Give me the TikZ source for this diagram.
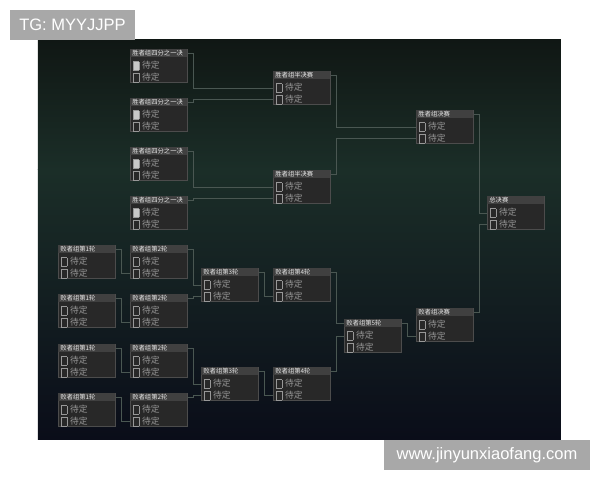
\documentclass[tikz,border=0pt]{standalone}
\usepackage{fontspec}
\setmainfont{Noto Sans CJK SC}
\newfontfamily\wmfont{Liberation Sans}
\usetikzlibrary{positioning}

\definecolor{bgtop}{HTML}{101714}
\definecolor{bgmid}{HTML}{1B2E28}
\definecolor{bgbot}{HTML}{0A0D19}
\definecolor{boxbody}{HTML}{282828}
\definecolor{boxhead}{HTML}{404040}
\definecolor{headtext}{HTML}{E8E8E8}
\definecolor{itemgray}{HTML}{989898}
\definecolor{flagfill}{HTML}{C8C8C8}
\definecolor{linkgray}{HTML}{4A5752}
\definecolor{wmgray}{HTML}{A8A8A8}

\setlength{\fboxsep}{0pt}
\setlength{\fboxrule}{0.4pt}
\newcommand{\chk}[1][boxbody]{\raisebox{-0.8pt}{\fcolorbox{itemgray}{#1}{\rule{0pt}{4.6pt}\hspace{2.9pt}}}\hspace{1.6pt}}

\tikzset{
  matchbox/.style={rectangle, fill=boxbody, draw=black!70, line width=0.2pt, anchor=north west,
    minimum width=1.14cm, minimum height=0.66cm, inner sep=0pt},
  matchhead/.style={rectangle, fill=boxhead, anchor=north west, minimum width=1.14cm,
    minimum height=0.16cm, inner xsep=0.04cm, inner ysep=0pt, text width=1.06cm, align=left,
    text=headtext, font=\fontsize{3.6}{4}\selectfont},
  entry/.style={rectangle, minimum width=1.14cm, minimum height=0.22cm, inner xsep=0.05cm,
    inner ysep=0pt, text width=1.04cm, align=left, text=itemgray, font=\fontsize{5}{5.5}\selectfont},
  link/.style={draw=linkgray, line width=0.45pt},
  wmark/.style={rectangle, fill=wmgray, text=white, inner sep=0pt, font=\wmfont\fontsize{9.4}{11}\selectfont},
}

% one match: box, title bar and two slots
\newcommand{\match}[4][\chk]{%
  \node[matchbox] (#2) at (#3) {};
  \node[matchhead] (#2 head) at (#2.north west) {#4};
  \node[entry, below right=0.05cm and 0cm of #2 head.south west] (#2 a) {#1待定};
  \node[entry, below right=0cm and 0cm of #2 a.south west] (#2 b) {\chk 待定};
}

\begin{document}
\begin{tikzpicture}[x=0.02cm, y=-0.02cm]
     \useasboundingbox (0,0) rectangle (600,480);
     \fill[white] (0,0) rectangle (600,480);
     \shade[top color=bgtop, bottom color=bgmid] (38,40) rectangle (561,170);
     \shade[top color=bgmid, bottom color=bgbot] (38,170) rectangle (561,440);
     % the winners bracket
     \match[{\chk[flagfill]}]{qf1}{130,49}{胜者组四分之一决}
     \match[{\chk[flagfill]}]{qf2}{130,98}{胜者组四分之一决}
     \match[{\chk[flagfill]}]{qf3}{130,147}{胜者组四分之一决}
     \match[{\chk[flagfill]}]{qf4}{130,196}{胜者组四分之一决}
     \match{sf1}{273,71}{胜者组半决赛}
     \match{sf2}{273,170}{胜者组半决赛}
     \match{wf}{416,110}{胜者组决赛}
     \match{gf}{487,196}{总决赛}
     % the losers bracket
     \match{l1a}{58,245}{败者组第1轮}
     \match{l1b}{58,294}{败者组第1轮}
     \match{l1c}{58,344}{败者组第1轮}
     \match{l1d}{58,393}{败者组第1轮}
     \match{l2a}{130,245}{败者组第2轮}
     \match{l2b}{130,294}{败者组第2轮}
     \match{l2c}{130,344}{败者组第2轮}
     \match{l2d}{130,393}{败者组第2轮}
     \match{l3a}{201,268}{败者组第3轮}
     \match{l3b}{201,367}{败者组第3轮}
     \match{l4a}{273,268}{败者组第4轮}
     \match{l4b}{273,367}{败者组第4轮}
     \match{l5}{344,319}{败者组第5轮}
     \match{lf}{416,308}{败者组决赛}
     % the lines
     \draw[link] (qf1 head.east) -- ++(6,0) |- (sf1 a.west);
     \draw[link] (qf2 head.east) -- ++(6,0) |- (sf1 b.west);
     \draw[link] (qf3 head.east) -- ++(6,0) |- (sf2 a.west);
     \draw[link] (qf4 head.east) -- ++(6,0) |- (sf2 b.west);
     \draw[link] (sf1 head.east) -- ++(6,0) |- (wf a.west);
     \draw[link] (sf2 head.east) -- ++(6,0) |- (wf b.west);
     \draw[link] (wf head.east) -- ++(6,0) |- (gf a.west);
     \draw[link] (lf head.east) -- ++(6,0) |- (gf b.west);
     \draw[link] (l1a head.east) -- ++(6,0) |- (l2a b.west);
     \draw[link] (l1b head.east) -- ++(6,0) |- (l2b b.west);
     \draw[link] (l1c head.east) -- ++(6,0) |- (l2c b.west);
     \draw[link] (l1d head.east) -- ++(6,0) |- (l2d b.west);
     \draw[link] (l2a head.east) -- ++(6,0) |- (l3a a.west);
     \draw[link] (l2b head.east) -- ++(6,0) |- (l3a b.west);
     \draw[link] (l2c head.east) -- ++(6,0) |- (l3b a.west);
     \draw[link] (l2d head.east) -- ++(6,0) |- (l3b b.west);
     \draw[link] (l3a head.east) -- ++(6,0) |- (l4a b.west);
     \draw[link] (l3b head.east) -- ++(6,0) |- (l4b b.west);
     \draw[link] (l4a head.east) -- ++(6,0) |- (l5 head.west);
     \draw[link] (l4b head.east) -- ++(6,0) |- (l5 a.west);
     \draw[link] (l5 head.east) -- ++(6,0) |- (lf b.west);
     % the marks
     \node[wmark, minimum width=2.5cm, minimum height=0.6cm] (tg) at (72.5,25) {TG: MYYJJPP};
     \node[wmark, minimum width=4.12cm, minimum height=0.6cm] (site) at (487,455) {www.jinyunxiaofang.com};
\end{tikzpicture}
\end{document}
